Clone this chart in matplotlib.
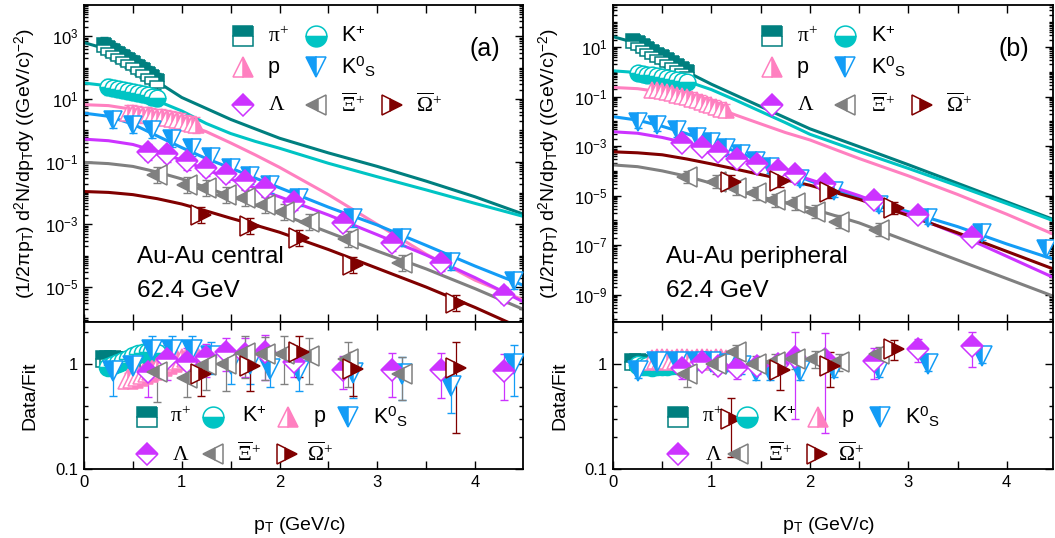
import numpy as np
import matplotlib
matplotlib.use("Agg")
import matplotlib.pyplot as plt
from matplotlib.ticker import (FixedLocator, NullFormatter, MultipleLocator, FuncFormatter,
                               LogLocator, LogFormatterSciNotation, FixedFormatter)

plt.rcParams['font.family'] = ['Liberation Sans', 'DejaVu Sans']
plt.rcParams['mathtext.fontset'] = 'custom'
plt.rcParams['mathtext.rm'] = 'Liberation Serif'
plt.rcParams['mathtext.it'] = 'Liberation Serif:italic'
plt.rcParams['mathtext.bf'] = 'Liberation Serif:bold'
plt.rcParams['mathtext.sf'] = 'Liberation Sans'

# ---------------- data ----------------
fit_pt = [0.0, 0.25, 0.5, 0.75, 1.0, 1.25, 1.5, 1.75, 2.0, 2.5, 3.0, 3.5, 4.0, 4.5]

# central (a) fit curves
c_pi_fit = [631, 380, 126, 35.5, 11.2, 5.01, 2.24, 1.12, 0.562, 0.191, 0.0708, 0.0240, 7.59e-3, 2.09e-3]
c_k_fit = [32.4, 26.3, 15.8, 8.71, 4.17, 1.66, 0.794, 0.447, 0.269, 0.0891, 0.0331, 0.0126, 4.68e-3, 1.78e-3]
c_p_fit = [6.61, 6.17, 4.68, 3.02, 1.74, 0.912, 0.398, 0.166, 0.0661, 8.91e-3, 1.0e-3, 1.12e-4, 1.66e-5, 3.80e-6]
c_k0_fit = [3.55, 2.82, 1.58, 0.661, 0.282, 0.126, 0.0631, 0.0302, 0.0148, 3.55e-3, 9.55e-4, 2.14e-4, 4.68e-5, 1.12e-5]
c_lam_fit = [0.525, 0.468, 0.355, 0.209, 0.112, 0.0562, 0.0282, 0.0145, 7.59e-3, 2.0e-3, 4.68e-4, 1.05e-4, 2.0e-5, 3.31e-6]
c_xi_fit = [0.0955, 0.0871, 0.0708, 0.0468, 0.0282, 0.0151, 7.94e-3, 4.17e-3, 2.24e-3, 5.62e-4, 1.41e-4, 3.80e-5, 8.91e-6, 1.91e-6]
c_om_fit = [0.0112, 0.0105, 8.91e-3, 6.61e-3, 4.47e-3, 2.69e-3, 1.58e-3, 9.55e-4, 5.62e-4, 1.58e-4, 3.98e-5, 1.0e-5, 2.24e-6, 4.47e-7]

# central (a) data
c_pi_pt = [0.20, 0.25, 0.30, 0.35, 0.40, 0.45, 0.50, 0.55, 0.60, 0.65, 0.70, 0.75]
c_pi_y = [525, 417, 339, 269, 214, 174, 138, 107, 83.2, 64.6, 50.1, 38.9]
c_pi_ratio = [1.12, 1.10, 1.10, 1.08, 1.08, 1.07, 1.08, 1.08, 1.07, 1.08, 1.09, 1.10]
c_pi_rerr = [0.08, 0.08, 0.08, 0.08, 0.08, 0.08, 0.08, 0.08, 0.08, 0.08, 0.08, 0.08]

c_k_pt = [0.25, 0.30, 0.35, 0.40, 0.45, 0.50, 0.55, 0.60, 0.65, 0.70, 0.75]
c_k_y = [24.0, 22.9, 21.4, 20.0, 18.2, 17.0, 15.5, 14.5, 13.2, 12.0, 11.0]
c_k_ratio = [0.93, 0.97, 1.02, 1.07, 1.12, 1.18, 1.24, 1.28, 1.30, 1.30, 1.28]
c_k_rerr = [0.1, 0.1, 0.1, 0.1, 0.1, 0.1, 0.1, 0.1, 0.1, 0.1, 0.1]

c_p_pt = [0.45, 0.50, 0.55, 0.60, 0.65, 0.70, 0.75, 0.80, 0.85, 0.90, 0.95, 1.00, 1.05, 1.10, 1.15]
c_p_y = [3.63, 3.47, 3.31, 3.16, 3.02, 2.88, 2.75, 2.63, 2.51, 2.34, 2.14, 1.95, 1.78, 1.62, 1.48]
c_p_ratio = [0.72, 0.74, 0.77, 0.80, 0.84, 0.88, 0.92, 0.96, 1.00, 1.04, 1.08, 1.12, 1.16, 1.20, 1.24]
c_p_rerr = [0.1, 0.1, 0.1, 0.1, 0.1, 0.1, 0.1, 0.1, 0.1, 0.1, 0.1, 0.1, 0.1, 0.1, 0.1]

c_k0_pt = [0.3, 0.5, 0.7, 0.9, 1.1, 1.3, 1.5, 1.7, 1.9, 2.2, 2.75, 3.25, 3.75, 4.4]
c_k0_y = [2.19, 1.51, 1.02, 0.525, 0.282, 0.138, 0.0631, 0.0355, 0.0178, 7.08e-3, 1.55e-3, 3.72e-4, 6.17e-5, 1.62e-5]
c_k0_ratio = [0.85, 0.95, 1.35, 1.35, 1.35, 1.2, 1.0, 1.0, 0.9, 0.85, 0.82, 0.8, 0.62, 1.0]
c_k0_rerr = [0.35, 0.3, 0.5, 0.5, 0.5, 0.4, 0.35, 0.35, 0.3, 0.3, 0.35, 0.35, 0.28, 0.5]

c_lam_pt = [0.65, 0.85, 1.05, 1.25, 1.45, 1.65, 1.85, 2.15, 2.65, 3.15, 3.65, 4.3]
c_lam_y = [0.209, 0.174, 0.102, 0.0646, 0.0417, 0.0240, 0.0145, 5.37e-3, 1.12e-3, 2.63e-4, 5.89e-5, 5.62e-6]
c_lam_ratio = [0.83, 1.1, 1.05, 1.15, 1.3, 1.25, 1.3, 1.05, 0.88, 0.88, 0.87, 0.85]
c_lam_rerr = [0.35, 0.4, 0.35, 0.4, 0.45, 0.5, 0.6, 0.3, 0.3, 0.4, 0.4, 0.4]

c_xi_pt = [0.75, 1.05, 1.25, 1.45, 1.65, 1.85, 2.05, 2.3, 2.7, 3.25]
c_xi_y = [0.0389, 0.0182, 0.0148, 8.91e-3, 6.92e-3, 4.07e-3, 2.45e-3, 1.17e-3, 3.55e-4, 5.89e-5]
c_xi_ratio = [0.83, 0.73, 0.97, 1.0, 1.28, 1.25, 1.25, 1.2, 1.1, 0.8]
c_xi_rerr = [0.4, 0.25, 0.4, 0.45, 0.55, 0.55, 0.6, 0.55, 0.5, 0.35]

c_om_pt = [1.2, 1.7, 2.2, 2.75, 3.8]
c_om_y = [2.04e-3, 8.71e-4, 3.72e-4, 5.25e-5, 3.16e-6]
c_om_ratio = [0.8, 0.95, 1.3, 0.9, 0.92]
c_om_rerr = [0.3, 0.4, 0.55, 0.4, 0.7]

# peripheral (b) fit curves
p_pi_fit = [26.3, 14.1, 3.80, 1.0, 0.316, 0.112, 0.0398, 0.0141, 5.01e-3, 9.55e-4, 1.78e-4, 3.16e-5, 5.62e-6, 1.0e-6]
p_k_fit = [1.10, 0.933, 0.661, 0.417, 0.191, 0.0708, 0.0251, 8.91e-3, 3.02e-3, 6.03e-4, 1.26e-4, 2.51e-5, 4.79e-6, 8.91e-7]
p_p_fit = [0.234, 0.209, 0.151, 0.0891, 0.0417, 0.0178, 7.94e-3, 3.55e-3, 1.78e-3, 3.16e-4, 6.31e-5, 1.12e-5, 1.78e-6, 2.51e-7]
p_k0_fit = [0.0155, 0.0112, 6.31e-3, 3.16e-3, 1.41e-3, 6.03e-4, 2.51e-4, 1.0e-4, 3.98e-5, 7.94e-6, 2.24e-6, 5.62e-7, 1.12e-7, 2.51e-8]
p_lam_fit = [3.80e-3, 3.31e-3, 2.24e-3, 1.32e-3, 7.08e-4, 3.55e-4, 1.78e-4, 8.91e-5, 4.47e-5, 1.0e-5, 1.78e-6, 2.82e-7, 3.55e-8, 4.47e-9]
p_xi_fit = [1.74e-4, 1.48e-4, 1.0e-4, 6.03e-5, 3.16e-5, 1.66e-5, 8.91e-6, 5.25e-6, 3.16e-6, 7.94e-7, 1.41e-7, 2.51e-8, 4.47e-9, 7.94e-10]
p_om_fit = [5.89e-4, 5.37e-4, 4.47e-4, 3.02e-4, 1.91e-4, 1.17e-4, 7.08e-5, 4.37e-5, 2.63e-5, 7.08e-6, 1.58e-6, 3.16e-7, 5.62e-8, 1.0e-8]

# peripheral (b) data
p_pi_pt = [0.20, 0.25, 0.30, 0.35, 0.40, 0.45, 0.50, 0.55, 0.60, 0.65, 0.70, 0.75]
p_pi_y = [17.8, 14.5, 11.2, 8.71, 6.61, 5.01, 3.89, 2.95, 2.24, 1.74, 1.32, 1.02]
p_pi_ratio = [1.04, 1.03, 1.02, 1.0, 1.0, 1.0, 1.01, 1.0, 1.0, 1.01, 1.0, 1.0]
p_pi_rerr = [0.06, 0.06, 0.06, 0.06, 0.06, 0.06, 0.06, 0.06, 0.06, 0.06, 0.06, 0.06]

p_k_pt = [0.25, 0.30, 0.35, 0.40, 0.45, 0.50, 0.55, 0.60, 0.65, 0.70, 0.75]
p_k_y = [0.891, 0.832, 0.776, 0.724, 0.676, 0.631, 0.575, 0.525, 0.479, 0.437, 0.398]
p_k_ratio = [0.98, 0.96, 0.95, 0.94, 0.95, 0.96, 0.95, 0.97, 0.98, 1.0, 1.02]
p_k_rerr = [0.08, 0.08, 0.08, 0.08, 0.08, 0.08, 0.08, 0.08, 0.08, 0.08, 0.08]

p_p_pt = [0.40, 0.45, 0.50, 0.55, 0.60, 0.65, 0.70, 0.75, 0.80, 0.85, 0.90, 0.95, 1.00, 1.05, 1.10, 1.15]
p_p_y = [0.191, 0.178, 0.166, 0.151, 0.135, 0.120, 0.110, 0.0977, 0.0832, 0.0724, 0.0617, 0.0525, 0.0457, 0.0389, 0.0324, 0.0275]
p_p_ratio = [1.08, 1.1, 1.12, 1.1, 1.08, 1.1, 1.12, 1.1, 1.08, 1.1, 1.12, 1.1, 1.08, 1.1, 1.1, 1.08]
p_p_rerr = [0.1, 0.1, 0.1, 0.1, 0.1, 0.1, 0.1, 0.1, 0.1, 0.1, 0.1, 0.1, 0.1, 0.1, 0.1, 0.1]

p_k0_pt = [0.25, 0.45, 0.65, 0.85, 1.0, 1.15, 1.3, 1.45, 1.6, 1.9, 2.25, 2.7, 3.2, 3.75, 4.4]
p_k0_y = [9.55e-3, 7.41e-3, 4.37e-3, 2.40e-3, 1.48e-3, 8.51e-4, 4.79e-4, 2.57e-4, 1.48e-4, 4.90e-5, 1.58e-5, 4.27e-6, 1.29e-6, 3.02e-7, 6.76e-8]
p_k0_ratio = [0.85, 1.05, 1.05, 1.05, 1.05, 1.0, 0.95, 0.85, 0.85, 0.85, 0.9, 0.9, 1.0, 1.2, np.nan]
p_k0_rerr = [0.12, 0.15, 0.15, 0.15, 0.15, 0.15, 0.15, 0.15, 0.15, 0.15, 0.15, 0.15, 0.15, 0.18, 0.2]

p_lam_pt = [0.7, 0.9, 1.07, 1.26, 1.46, 1.68, 1.85, 2.15, 2.65, 3.1, 3.65]
p_lam_y = [1.35e-3, 9.55e-4, 5.62e-4, 3.16e-4, 1.91e-4, 1.07e-4, 7.76e-5, 3.09e-5, 6.46e-6, 1.70e-6, 2.24e-7]
p_lam_ratio = [0.92, 1.05, 0.95, 0.92, 0.95, 1.0, 1.15, 1.1, 1.06, 1.38, 1.48]
p_lam_rerr = [0.2, 0.15, 0.12, 0.2, 0.15, 0.2, 0.85, 0.88, 0.35, 0.35, 0.55]

p_xi_pt = [0.75, 1.05, 1.25, 1.45, 1.65, 1.85, 2.05, 2.3, 2.7]
p_xi_y = [5.75e-5, 3.63e-5, 1.95e-5, 1.23e-5, 6.61e-6, 4.90e-6, 2.24e-6, 8.91e-7, 4.17e-7]
p_xi_ratio = [0.8, 1.0, 1.3, 1.0, 1.05, 1.1, 1.12, 1.05, 1.25]
p_xi_rerr = [0.2, 0.2, 0.2, 0.2, 0.2, 0.2, 0.2, 0.2, 0.2]

p_om_pt = [1.2, 1.7, 2.2, 2.85]
p_om_y = [3.63e-5, 3.98e-5, 1.41e-5, 3.16e-6]
p_om_ratio = [0.3, 0.87, 0.95, 1.38]
p_om_rerr = [0.17, 0.3, 0.35, 0.3]

species = ['pi', 'k', 'p', 'k0', 'lam', 'xi', 'om']
labels = {
    'pi': r'$\mathrm{π}^{+}$',
    'k': r'K$^{\mathsf{+}}$',
    'p': 'p',
    'k0': r'K$^{\mathsf{0}}$${}_{\mathsf{S}}$',
    'lam': r'$\mathrm{Λ}$',
    'xi': r'$\overline{\mathrm{Ξ}}^{+}$',
    'om': r'$\overline{\mathrm{Ω}}^{+}$',
}

# ---------------- styles ----------------
STY = {
    'pi': dict(color='#007F7F', marker='s', fill='top', ms=10, rms=12, lms=14),
    'k': dict(color='#00C4C4', marker='o', fill='bottom', ms=12, rms=13, lms=15),
    'p': dict(color='#FF80C0', marker='^', fill='right', ms=12, rms=14, lms=15),
    'k0': dict(color='#139CF6', marker='v', fill='left', ms=13, rms=14, lms=15),
    'lam': dict(color='#CC33FF', marker='D', fill='top', ms=11, rms=11.5, lms=11.5),
    'xi': dict(color='#808080', marker='<', fill='left', ms=14, rms=15, lms=15),
    'om': dict(color='#800000', marker='>', fill='right', ms=14, rms=15, lms=15),
}

central = {
    'pi': (c_pi_pt, c_pi_y, c_pi_ratio, c_pi_rerr, c_pi_fit),
    'k': (c_k_pt, c_k_y, c_k_ratio, c_k_rerr, c_k_fit),
    'p': (c_p_pt, c_p_y, c_p_ratio, c_p_rerr, c_p_fit),
    'k0': (c_k0_pt, c_k0_y, c_k0_ratio, c_k0_rerr, c_k0_fit),
    'lam': (c_lam_pt, c_lam_y, c_lam_ratio, c_lam_rerr, c_lam_fit),
    'xi': (c_xi_pt, c_xi_y, c_xi_ratio, c_xi_rerr, c_xi_fit),
    'om': (c_om_pt, c_om_y, c_om_ratio, c_om_rerr, c_om_fit),
}
peripheral = {
    'pi': (p_pi_pt, p_pi_y, p_pi_ratio, p_pi_rerr, p_pi_fit),
    'k': (p_k_pt, p_k_y, p_k_ratio, p_k_rerr, p_k_fit),
    'p': (p_p_pt, p_p_y, p_p_ratio, p_p_rerr, p_p_fit),
    'k0': (p_k0_pt, p_k0_y, p_k0_ratio, p_k0_rerr, p_k0_fit),
    'lam': (p_lam_pt, p_lam_y, p_lam_ratio, p_lam_rerr, p_lam_fit),
    'xi': (p_xi_pt, p_xi_y, p_xi_ratio, p_xi_rerr, p_xi_fit),
    'om': (p_om_pt, p_om_y, p_om_ratio, p_om_rerr, p_om_fit),
}

W, H = 1055, 538
fig = plt.figure(figsize=(W / 100, H / 100), dpi=100)


def box(x0, x1, y0, y1):
    return [x0 / W, 1 - y1 / H, (x1 - x0) / W, (y1 - y0) / H]


def mstyle(key):
    st = STY[key]
    c = st['color']
    return dict(ls='none', marker=st['marker'], fillstyle=st['fill'], color=c,
                markerfacecolor=c, markerfacecoloralt='white', markeredgecolor=c,
                markeredgewidth=1.1)


def setup(ax_t, ax_r, ylim, major_exps, xmax):
    for ax in (ax_t, ax_r):
        ax.set_xlim(0, xmax)
        ax.set_yscale('log')
        ax.tick_params(which='both', direction='in', top=True, right=True, width=1.0,
                       labelsize=12, pad=4)
        ax.tick_params(which='major', length=6)
        ax.tick_params(which='minor', length=3)
        ax.xaxis.set_major_locator(MultipleLocator(0.5))
        for s in ax.spines.values():
            s.set_linewidth(1.3)
    ax_t.set_ylim(*ylim)
    ax_t.yaxis.set_major_locator(FixedLocator([10.0 ** e for e in major_exps]))
    ax_t.yaxis.set_major_formatter(LogFormatterSciNotation())
    ax_t.yaxis.set_minor_locator(LogLocator(base=10, subs=np.arange(1, 10), numticks=300))
    ax_t.yaxis.set_minor_formatter(NullFormatter())
    ax_t.xaxis.set_major_formatter(NullFormatter())
    ax_r.set_ylim(0.1, 2.5)
    ax_r.yaxis.set_major_locator(FixedLocator([0.1, 1.0]))
    ax_r.yaxis.set_major_formatter(FixedFormatter(['0.1', '1']))
    ax_r.yaxis.set_minor_locator(FixedLocator([0.2, 0.3, 0.4, 0.6, 2.0]))
    ax_r.yaxis.set_minor_formatter(NullFormatter())
    ax_r.xaxis.set_major_formatter(FuncFormatter(
        lambda v, p: '%d' % round(v) if abs(v - round(v)) < 1e-6 else ''))


def draw(ax_t, ax_r, data):
    for key in species:
        pt, y, ratio, rerr, fit = data[key]
        ax_t.plot(fit_pt, fit, color=STY[key]['color'], lw=2.2, zorder=2)
    for key in species:
        pt, y, ratio, rerr, fit = data[key]
        c = STY[key]['color']
        ya = np.asarray(y, float)
        ax_t.errorbar(pt, ya, yerr=[0.45 * ya, 0.8 * ya], fmt='none', ecolor=c,
                      elinewidth=0.9, capsize=3, zorder=3)
        ax_t.plot(pt, ya, ms=STY[key]['ms'], zorder=4, **mstyle(key))
        ax_r.errorbar(pt, ratio, yerr=rerr, fmt='none', ecolor=c, elinewidth=0.9,
                      capsize=3, zorder=3)
        ax_r.plot(pt, ratio, ms=STY[key]['rms'], zorder=4, **mstyle(key))


def legend_item(ax, key, xm, xt, y):
    ax.plot([xm], [y], transform=ax.transAxes, clip_on=False, zorder=6,
            ms=STY[key]['lms'], **mstyle(key))
    ax.text(xt, y, labels[key], transform=ax.transAxes, va='center', ha='left',
            fontsize=15.5, zorder=6)


ylab = r'(1/2πp$_{\mathsf{T}}$) d$^{\mathsf{2}}$N/dp$_{\mathsf{T}}$dy ((GeV/c)$^{\mathsf{-2}}$)'

panels = [
    dict(x0=84, x1=523, xmax=4.49, ylim=(7.7e-7, 1e4), majors=[3, 1, -1, -3, -5],
         data=central, tag='(a)', line1='Au-Au central',
         rleg1=[(0.143, 0.196), (0.294, 0.359), (0.465, 0.522), (0.602, 0.659)],
         rleg2=[(0.143, 0.200), (0.294, 0.348), (0.462, 0.507)],
         ylx=-0.105, rylx=-0.105),
    dict(x0=613, x1=1053, xmax=4.47, ylim=(7.9e-11, 5.0e2), majors=[1, -1, -3, -5, -7, -9],
         data=peripheral, tag='(b)', line1='Au-Au peripheral',
         rleg1=[(0.148, 0.202), (0.304, 0.361), (0.467, 0.520), (0.607, 0.664)],
         rleg2=[(0.148, 0.209), (0.285, 0.353), (0.463, 0.512)],
         ylx=-0.116, rylx=-0.102),
]

for P in panels:
    ax_t = fig.add_axes(box(P['x0'], P['x1'], 5, 322))
    ax_r = fig.add_axes(box(P['x0'], P['x1'], 322, 469))
    setup(ax_t, ax_r, P['ylim'], P['majors'], P['xmax'])
    draw(ax_t, ax_r, P['data'])

    # top legend
    rows = [(0.902, ['pi', 'k']), (0.804, ['p', 'k0']), (0.685, ['lam', 'xi', 'om'])]
    cols = [(0.362, 0.418), (0.528, 0.586), (0.702, 0.756)]
    for y, keys in rows:
        for (xm, xt), key in zip(cols, keys):
            legend_item(ax_t, key, xm, xt, y)
    # ratio legend
    for (xm, xt), key in zip(P['rleg1'], ['pi', 'k', 'p', 'k0']):
        legend_item(ax_r, key, xm, xt, 0.356)
    for (xm, xt), key in zip(P['rleg2'], ['lam', 'xi', 'om']):
        legend_item(ax_r, key, xm, xt, 0.10)

    ax_t.text(0.912, 0.861, P['tag'], transform=ax_t.transAxes, ha='center', va='center',
              fontsize=18)
    ax_t.text(0.12, 0.186, P['line1'], transform=ax_t.transAxes, ha='left', va='baseline',
              fontsize=17.5)
    ax_t.text(0.12, 0.080, '62.4 GeV', transform=ax_t.transAxes, ha='left', va='baseline',
              fontsize=17.5)

    ax_t.set_ylabel(ylab, fontsize=14)
    ax_t.yaxis.set_label_coords(P['ylx'], 0.5)
    ax_r.set_ylabel('Data/Fit', fontsize=14)
    ax_r.yaxis.set_label_coords(P['rylx'], 0.5)
    ax_r.set_xlabel(r'p$_{\mathsf{T}}$ (GeV/c)', fontsize=14)
    ax_r.xaxis.set_label_coords(0.49, -0.31)

fig.savefig('out.png', dpi=100)
